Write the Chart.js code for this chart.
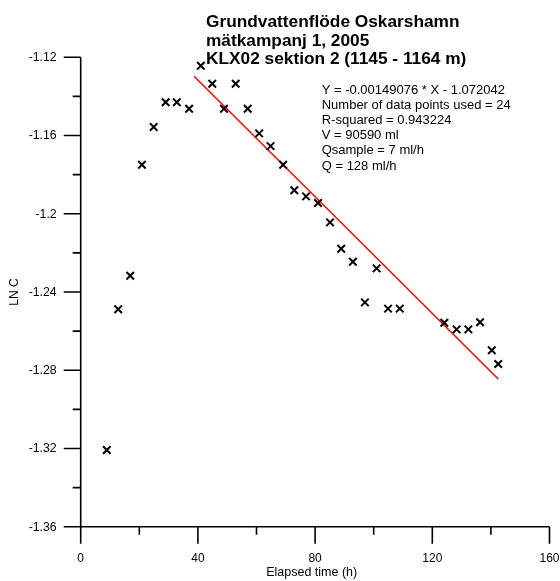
<!DOCTYPE html>
<html>
<head>
<meta charset="utf-8">
<script src="https://cdn.jsdelivr.net/npm/chart.js@4/dist/chart.umd.min.js"></script>
<style>
html,body{margin:0;padding:0;background:#fff;}
#wrap{width:560px;height:581px;position:relative;}
</style>
</head>
<body>
<div id="wrap"><canvas id="c" width="560" height="581"></canvas></div>
<script>
// ---- data ----
const elapsedHours = [8.9, 12.8, 16.9, 20.9, 24.9, 29.0, 32.8, 37.0, 41.0, 44.9, 48.9, 52.9, 57.0, 60.9, 64.8, 69.1, 72.9, 76.9, 81.0, 85.1, 88.9, 92.9, 97.0, 101.0, 104.9, 108.9, 124.1, 128.3, 132.3, 136.3, 140.3, 142.5];
const lnC = [-1.3208, -1.2488, -1.2317, -1.1749, -1.1556, -1.1430, -1.1430, -1.1463, -1.1243, -1.1335, -1.1463, -1.1335, -1.1463, -1.1589, -1.1654, -1.1749, -1.1880, -1.1911, -1.1945, -1.2044, -1.2179, -1.2245, -1.2453, -1.2279, -1.2485, -1.2485, -1.2557, -1.2591, -1.2591, -1.2555, -1.2698, -1.2768];
const fitSlope = -0.00149076;
const fitIntercept = -1.072042;
const fitXRange = [38.7, 142.5];
const xTickValues = [0, 40, 80, 120, 160];
const xTickLabels = ['0', '40', '80', '120', '160'];
const xMinorTicks = [20, 60, 100, 140];
const yTickValues = [-1.12, -1.16, -1.2, -1.24, -1.28, -1.32, -1.36];
const yTickLabels = ['-1.12', '-1.16', '-1.2', '-1.24', '-1.28', '-1.32', '-1.36'];
const yMinorTicks = [-1.14, -1.18, -1.22, -1.26, -1.30, -1.34];
const titleLines = ['Grundvattenflöde Oskarshamn', 'mätkampanj 1, 2005', 'KLX02 sektion 2 (1145 - 1164 m)'];
const infoLines = ['Y = -0.00149076 * X - 1.072042', 'Number of data points used = 24', 'R-squared = 0.943224', 'V = 90590 ml', 'Qsample = 7 ml/h', 'Q = 128 ml/h'];
const xAxisTitle = 'Elapsed time (h)';
const yAxisTitle = 'LN C';

const points = elapsedHours.map((x, i) => ({x: x, y: lnC[i]}));
const fitLine = fitXRange.map(x => ({x: x, y: fitSlope * x + fitIntercept}));

const FONT = '"Liberation Sans", Arial, sans-serif';

const axesPlugin = {
  id: 'axesPlugin',
  afterDraw(chart) {
    const ctx = chart.ctx;
    const xs = chart.scales.x, ys = chart.scales.y;
    const left = xs.getPixelForValue(0), right = xs.getPixelForValue(160);
    const top = ys.getPixelForValue(-1.12), bottom = ys.getPixelForValue(-1.36);
    const major = 17, minor = 8;
    ctx.save();
    ctx.strokeStyle = '#000';
    ctx.lineWidth = 1.6;
    ctx.lineCap = 'butt';
    ctx.beginPath();
    ctx.moveTo(left, top); ctx.lineTo(left, bottom);
    ctx.moveTo(left, bottom); ctx.lineTo(right, bottom);
    xTickValues.forEach(v => { const p = xs.getPixelForValue(v); ctx.moveTo(p, bottom); ctx.lineTo(p, bottom + major); });
    xMinorTicks.forEach(v => { const p = xs.getPixelForValue(v); ctx.moveTo(p, bottom); ctx.lineTo(p, bottom + minor); });
    yTickValues.forEach(v => { const p = ys.getPixelForValue(v); ctx.moveTo(left, p); ctx.lineTo(left - major, p); });
    yMinorTicks.forEach(v => { const p = ys.getPixelForValue(v); ctx.moveTo(left, p); ctx.lineTo(left - minor, p); });
    ctx.stroke();

    ctx.fillStyle = '#000';
    ctx.font = '12.3px ' + FONT;
    ctx.textAlign = 'right'; ctx.textBaseline = 'middle';
    yTickValues.forEach((v, i) => { ctx.fillText(yTickLabels[i], left - 24, ys.getPixelForValue(v) + 0.5); });
    ctx.textAlign = 'center';
    ctx.font = '12px ' + FONT;
    xTickValues.forEach((v, i) => { ctx.fillText(xTickLabels[i], xs.getPixelForValue(v), 559); });
    ctx.font = '12.5px ' + FONT;
    ctx.fillText(xAxisTitle, 311.7, 573);
    ctx.save();
    ctx.translate(15, (top + bottom) / 2);
    ctx.rotate(-Math.PI / 2);
    ctx.font = '12px ' + FONT;
    ctx.fillText(yAxisTitle, 0, 0);
    ctx.restore();

    ctx.textAlign = 'left'; ctx.textBaseline = 'alphabetic';
    ctx.font = 'bold 17.3px ' + FONT;
    titleLines.forEach((t, i) => ctx.fillText(t, 206, 27.2 + i * 18.3));
    ctx.font = '13px ' + FONT;
    infoLines.forEach((t, i) => ctx.fillText(t, 321.7, 93.5 + i * 15.2));
    ctx.restore();
  }
};

new Chart(document.getElementById('c'), {
  type: 'scatter',
  data: {
    datasets: [
      {
        label: 'LN C',
        data: points,
        pointStyle: 'crossRot',
        pointRadius: 5.3,
        pointHoverRadius: 5.3,
        pointBorderWidth: 2,
        borderColor: '#000',
        backgroundColor: '#000',
        showLine: false
      },
      {
        label: 'fit',
        data: fitLine,
        showLine: true,
        borderColor: '#ff0000',
        borderWidth: 1.5,
        pointRadius: 0,
        fill: false
      }
    ]
  },
  options: {
    responsive: false,
    animation: false,
    events: [],
    layout: { padding: { left: 80.7, right: 10.5, top: 57.3, bottom: 54.3 } },
    plugins: { legend: { display: false }, tooltip: { enabled: false }, title: { display: false } },
    scales: {
      x: { type: 'linear', min: 0, max: 160, display: false },
      y: { type: 'linear', min: -1.36, max: -1.12, display: false }
    }
  },
  plugins: [axesPlugin]
});
</script>
</body>
</html>
